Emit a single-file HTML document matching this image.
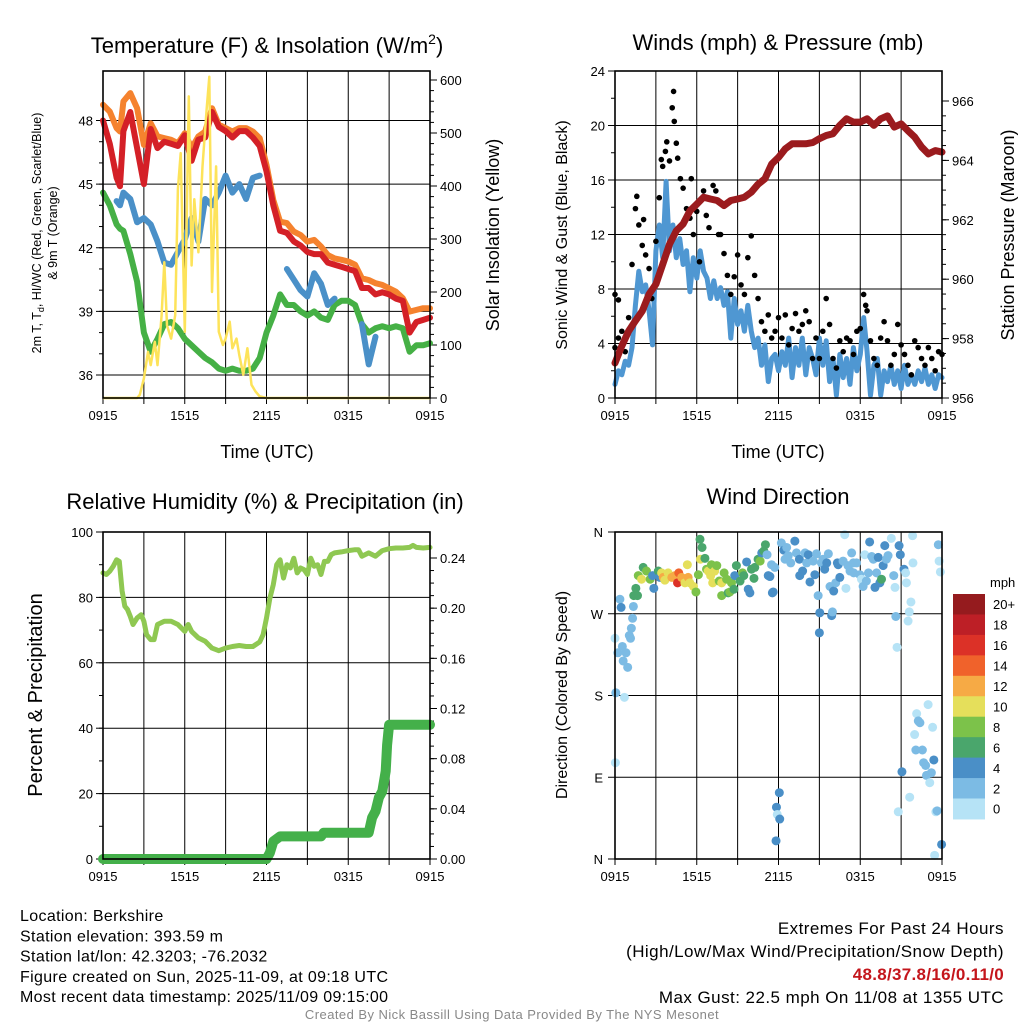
<!DOCTYPE html>
<html><head><meta charset="utf-8"><style>
html,body{margin:0;padding:0;background:#fff;}
svg text{font-family:"Liberation Sans",sans-serif;}
</style></head><body>
<svg id="c" width="1024" height="1024" viewBox="0 0 1024 1024" xmlns="http://www.w3.org/2000/svg"></svg>
<script>
// ---------- DATA ----------
const tempTime=[0,0.5,1,1.25,1.5,2,2.5,3,3.5,4,4.5,5,5.5,6,6.5,7,7.5,8,8.5,9,9.5,10,10.5,11,11.5,12,12.5,13,13.5,14,14.5,15,15.5,16,16.5,17,17.5,18,18.5,19,19.5,20,20.5,21,21.5,22,22.5,23,23.5,24];
const temp2m=[48.0,46.9,45.3,44.9,47.5,48.4,46.7,45.0,47.6,46.7,47.0,46.9,46.8,47.3,46.1,47.1,47.2,48.4,47.7,47.5,47.2,47.5,47.5,47.2,46.8,45.6,44.0,42.8,42.7,42.3,42.1,41.8,41.7,41.7,41.3,41.2,41.1,41.0,40.9,40.1,40.1,39.8,39.9,39.8,39.6,39.5,38.0,38.5,38.6,38.7];
const temp9m=[48.74,48.42,47.64,47.48,48.9,49.29,48.58,46.85,47.87,47.25,47.17,47.09,46.93,47.4,46.7,47.25,47.48,48.58,47.8,47.64,47.48,47.64,47.64,47.48,47.17,45.9,44.25,43.23,43.16,42.76,42.6,42.29,42.37,42.06,41.66,41.5,41.43,41.35,41.2,40.56,40.48,40.33,40.25,40.09,39.93,39.62,38.99,39.07,39.15,39.15];
const dewpoint=[44.6,44.0,43.1,42.9,42.8,41.7,40.4,38.0,37.1,37.7,38.4,38.5,38.2,37.7,37.4,37.1,36.8,36.6,36.3,36.2,36.3,36.2,36.2,36.3,36.8,38.0,38.8,39.8,39.3,39.3,39.0,38.8,39.0,38.7,38.6,39.3,39.5,39.5,39.3,38.4,38.0,38.2,38.3,38.2,38.3,38.2,37.1,37.4,37.4,37.5];
const windChill=[null,null,44.2,44.0,44.6,44.3,43.2,43.4,43.1,42.3,41.3,41.2,41.8,42.4,43.4,42.3,44.3,44.0,44.6,45.4,44.6,45.0,44.3,45.3,45.4,null,43.0,null,41.0,40.5,40.0,39.7,40.8,40.3,39.3,39.6,null,null,null,38.4,36.5,37.8,null,37.2,null,null,37.2,null,null,null];
const solarTime=[0,2.5,2.7,3,3.3,3.5,3.8,4,4.3,4.5,4.7,5,5.3,5.5,5.7,6,6.3,6.5,6.7,7,7.3,7.6,7.8,8,8.3,8.5,8.8,9,9.3,9.5,9.8,10,10.3,10.6,10.9,11.2,11.5,12,24];
const solar=[0,0,6,37,87,62,106,62,156,256,137,112,156,394,462,125,569,250,375,275,437,544,606,200,437,125,100,112,144,94,112,81,44,94,25,12,3,0,0];

const windSpeed=[1.0,2.0,1.7,2.7,2.4,3.7,6.8,9.3,7.8,8.3,6.4,3.9,10.8,12.7,10.3,15.9,10.8,12.7,10.3,11.7,9.8,10.8,7.8,10.3,8.8,10.8,9.3,8.8,7.3,8.6,7.3,8.1,6.8,7.8,4.4,7.3,5.4,6.4,4.9,6.8,4.9,3.7,4.4,2.4,3.9,1.2,2.9,3.2,2.0,3.4,2.4,4.4,1.5,3.7,2.4,4.4,1.7,3.7,2.9,1.7,4.4,2.4,4.2,1.2,2.9,0.2,3.2,1.5,2.9,1.0,3.7,2.0,3.2,5.9,3.4,0.2,2.4,2.9,0.2,2.0,1.2,2.4,1.0,2.0,0.7,2.4,1.0,1.7,1.0,2.0,1.2,2.2,1.0,1.7,0.7,1.7,1.5];
const windStep=0.25;
const gustTime=[0,0,0.25,0.25,0.5,0.75,1,1.25,1.5,1.6,1.75,2,2.1,2.25,2.5,2.7,3,3.25,3.4,3.5,3.7,3.8,4,4.2,4.3,4.35,4.5,4.6,4.8,5,5.25,5.5,5.6,5.75,6,6.2,6.5,6.7,6.9,7.2,7.4,7.6,7.75,8,8.25,8.5,8.75,9,9.25,9.5,9.75,10,10.25,10.5,10.75,11,11.25,11.5,11.75,12,12.25,12.5,12.75,13,13.25,13.5,13.75,14,14.25,14.5,14.75,15,15.25,15.5,15.75,16,16.25,16.5,16.75,17,17.25,17.5,17.75,18,18.25,18.4,18.5,18.75,19,19.25,19.5,19.75,20,20.25,20.5,20.75,21,21.25,21.5,21.75,22,22.25,22.5,22.75,23,23.25,23.5,23.75,24];
const gust=[7.6,3.7,7.2,4.4,4.9,3.4,5.9,9.8,13.9,14.8,12.7,11.2,13.1,10.5,9.5,7.3,11.5,14.7,17.5,17.0,18.1,18.8,17.4,21.3,22.5,20.3,18.7,17.6,16.1,15.4,13.9,13.2,16.1,12.0,13.7,10.0,15.2,13.4,12.5,15.6,15.2,12.0,12.0,10.6,9.0,7.6,8.9,10.5,8.3,7.6,10.3,11.9,9.0,7.3,5.6,4.9,6.1,4.4,4.9,5.9,4.4,6.1,3.9,5.1,6.2,4.9,5.4,6.4,5.6,2.9,4.4,2.9,4.9,7.3,5.4,2.9,2.2,4.2,3.4,4.4,4.2,3.2,4.9,5.1,7.6,6.8,6.4,4.2,2.9,2.4,4.4,5.6,4.2,2.4,3.2,5.4,3.9,3.2,2.4,1.7,4.2,3.7,2.9,2.4,3.7,2.9,2.0,3.4,3.2];
const pressure=[957.18,957.75,958.25,958.6,958.93,959.5,959.83,960.5,961.18,961.63,961.86,962.3,962.53,962.76,962.7,962.65,962.48,962.65,962.7,962.76,962.93,963.2,963.38,963.88,964.1,964.39,964.56,964.56,964.56,964.6,964.73,964.84,964.9,965.18,965.4,965.29,965.29,965.4,965.18,965.4,965.5,965.12,965.23,965.0,964.78,964.45,964.22,964.33,964.28];
const pressStep=0.5;

const rhTime=[0,0.25,0.5,0.75,1,1.2,1.4,1.6,1.8,2,2.2,2.5,2.8,3,3.2,3.5,3.75,4,4.5,5,5.5,6,6.25,6.5,7,7.5,8,8.5,9,9.5,10,10.5,11,11.5,11.75,12,12.25,12.5,12.75,13,13.25,13.5,13.75,14,14.25,14.5,14.75,15,15.25,15.5,15.75,16,16.25,16.5,16.75,17,17.5,18,18.5,18.75,19,19.5,20,20.5,21,21.5,22,22.5,22.75,23,23.5,24];
const rh=[87.5,87,88,89.5,91.5,91,82,77.3,76.3,74.2,71.7,73.7,74.7,72.7,68.6,67.1,67.1,71.7,72.7,72.7,71.7,69.6,71.7,69.6,67.6,66.6,64.5,63.7,64.5,65.0,65.3,65.0,65.0,66.4,68.6,73.7,79.8,83.9,90.0,91.5,85.9,90,89,92,87.5,89,88.5,87,92,89.5,90,87,91,91,93.1,93.6,93.9,94.3,94.6,94.6,92.6,93.6,92.6,94.3,94.9,95.1,95.1,95.3,95.9,95.3,95.1,95.3];
const precipTime=[0,12,12.25,12.5,13,16,16.2,19.5,19.75,20,20.25,20.5,20.75,20.85,21,24];
const precip=[0,0,0.005,0.014,0.018,0.018,0.021,0.021,0.033,0.038,0.049,0.054,0.07,0.091,0.107,0.107];

const dirTime=[0,0.21,0.06,0.69,0.03,0.36,0.45,0.54,0.81,0.6,0.93,1.05,1.14,1.2,1.29,1.35,1.38,1.53,1.65,1.71,1.95,2.07,2.31,2.58,2.76,2.85,3.18,3.3,3.42,3.54,3.66,3.9,4.17,4.41,4.59,4.68,4.89,5.13,5.31,5.37,5.49,5.76,5.94,6.12,6.24,6.27,6.39,6.6,6.72,6.84,7.02,7.08,7.17,7.32,7.47,7.65,7.83,7.83,8.01,8.19,8.31,8.43,8.55,8.73,8.79,8.91,9.18,9.36,9.45,9.66,9.78,9.9,10.02,10.2,10.26,10.5,10.65,10.77,10.92,11.04,11.16,11.25,11.37,11.49,11.55,11.61,11.73,12.06,11.85,11.91,12.09,11.82,12.21,12.39,12.48,12.6,12.72,12.9,13.2,13.32,13.53,13.56,13.77,13.95,14.07,14.19,14.31,14.55,14.67,14.79,14.91,15.03,15.0,15.15,15.27,15.39,15.54,15.66,15.78,15.9,15.96,16.05,16.2,16.32,16.38,16.5,16.74,16.86,16.95,17.1,17.25,17.37,17.49,17.52,17.73,17.97,18.09,18.21,18.33,18.45,18.6,18.69,18.84,18.96,19.08,19.2,19.32,19.44,19.56,19.68,19.8,19.92,20.04,20.28,20.46,20.55,20.61,20.7,20.79,20.85,20.94,21.06,21.21,21.33,21.39,21.51,21.6,21.63,21.72,21.84,21.87,21.99,22.08,22.14,22.26,22.38,22.56,22.65,22.8,22.86,22.98,23.1,23.22,23.31,23.4,23.46,23.55,23.64,23.73,23.79,23.88,23.97];
const dirDeg=[243,227,183,178,106,286,277,234,227,218,211,246,243,254,265,278,290,298,290,312,308,321,317,308,312,298,317,310,315,310,307,315,310,312,304,315,310,304,324,310,304,300,294,313,352,330,343,331,319,317,312,324,304,317,323,306,304,290,315,308,293,294,304,297,312,323,306,315,312,327,297,293,319,309,321,330,328,337,339,346,335,312,311,324,293,294,321,73,57,49,44,20,348,340,330,343,334,326,350,337,330,312,317,337,326,335,305,328,313,336,290,271,249,326,330,319,326,336,300,268,272,295,304,326,324,310,328,357,298,323,317,337,326,315,326,313,308,300,335,306,315,349,333,330,299,315,332,304,308,323,345,330,334,353,312,299,267,233,52,345,335,96,319,315,304,262,272,68,283,356,326,137,120,160,152,150,120,106,103,92,170,84,95,145,109,4,52,53,346,328,316,16];
const dirSpeed=[1,3,3,1,1,3,5,3,3,3,3,3,3,3,3,3,7,7,7,9,11,7,9,9,5,5,7,5,11,13,11,11,13,13,17,15,13,11,11,13,11,11,9,9,7,11,7,7,9,11,11,9,11,11,9,9,11,9,9,9,7,9,9,7,5,7,7,9,7,5,5,5,7,7,7,7,9,5,7,7,3,5,5,3,5,5,3,5,5,1,5,5,3,5,3,3,3,3,5,3,5,5,5,3,3,5,5,3,5,3,3,5,5,3,3,5,5,3,3,5,3,5,3,5,5,5,3,1,1,3,3,3,3,3,3,3,1,3,1,3,3,5,3,3,5,3,5,5,7,5,5,3,3,1,3,1,3,1,1,5,5,5,5,1,1,1,1,1,1,1,1,1,3,1,3,3,3,3,3,3,1,1,3,1,5,1,1,3,3,1,1,5];

const xTickLabels=["0915","1515","2115","0315","0915"];
const speedBinLabels=["20+","18","16","14","12","10","8","6","4","2","0"];
const speedBinColors=["#951b1e","#bd1f26","#dc3127","#f0622b","#f6aa45","#e5df5b","#7cc24a","#4aa66c","#4a8fc7","#7cbbe4","#b6e3f6"];
const dirLabels=["N","E","S","W","N"];

// ---------- HELPERS ----------
const NS="http://www.w3.org/2000/svg";
const svg=document.getElementById('c');
function mk(tag,attrs,parent){const e=document.createElementNS(NS,tag);for(const k in attrs)e.setAttribute(k,attrs[k]);(parent||svg).appendChild(e);return e;}
function txt(s,x,y,size,anchor,parent,extra){const t=mk('text',Object.assign({x:x,y:y,'font-size':size,'text-anchor':anchor||'middle',fill:'#000'},extra||{}),parent);t.textContent=s;return t;}
function lin(d0,d1,r0,r1){return v=>r0+(v-d0)*(r1-r0)/(d1-d0);}
function pathFrom(xs,ys,fx,fy){let d='',pen=false;for(let i=0;i<xs.length;i++){if(ys[i]===null){pen=false;continue;}d+=(pen?'L':'M')+fx(xs[i]).toFixed(1)+','+fy(ys[i]).toFixed(1);pen=true;}return d;}

function panel(name,x0,y0,x1,y1){
  const g=mk('g',{});
  
  
  const xs=lin(0,24,x0,x1);
  const grid=mk('g',{stroke:'#000','stroke-width':1},g);
  
  
  for(let h=3;h<24;h+=3){mk('line',{x1:xs(h),x2:xs(h),y1:y0,y2:y1},grid);}
  const xt=mk('g',{},g);
  
  
  for(let i=0;i<xTickLabels.length;i++){const h=i*6;mk('line',{x1:xs(h),x2:xs(h),y1:y1,y2:y1+6,stroke:'#000'},xt);txt(xTickLabels[i],xs(h),y1+22,13,'middle',xt);}
  for(let h=3;h<24;h+=6){mk('line',{x1:xs(h),x2:xs(h),y1:y1,y2:y1+6,stroke:'#000'},xt);}
  return {g:g,xs:xs,grid:grid,x0:x0,x1:x1,y0:y0,y1:y1};
}
function frame(p){const r=mk('rect',{x:p.x0,y:p.y0,width:p.x1-p.x0,height:p.y1-p.y0,fill:'none',stroke:'#000','stroke-width':1.6},p.g);}
function yAxis(p,side,fy,min,max,major,minor,fmt,gridOn,name){
  const g=mk('g',{},p.g);
  
  
  const x=side==='left'?p.x0:p.x1, dir=side==='left'?-1:1;
  if(minor){for(let v=min;v<=max+1e-9;v+=minor){mk('line',{x1:x,x2:x+dir*4,y1:fy(v),y2:fy(v),stroke:'#000'},g);}}
  for(let v=min;v<=max+1e-9;v+=major){const y=fy(v);mk('line',{x1:x,x2:x+dir*7,y1:y,y2:y,stroke:'#000'},g);
    txt(fmt(v),x+dir*10,y+5,13,side==='left'?'end':'start',g);
    if(gridOn&&Math.abs(y-p.y0)>2&&Math.abs(y-p.y1)>2)mk('line',{x1:p.x0,x2:p.x1,y1:y,y2:y,stroke:'#000'},p.grid);}
}

// ---------- PANEL 1: Temperature ----------
{
const p=panel('temperature-panel',103,71,430,398);
const yT=lin(36,48,375,120.5), yS=lin(0,600,398,80);
yAxis(p,'left',yT,36,48,3,1,v=>String(v),true,'temp-y-axis');
yAxis(p,'right',yS,0,600,100,20,v=>String(v),false,'solar-y-axis');
const s1=mk('path',{d:pathFrom(tempTime,dewpoint,p.xs,yT),fill:'none',stroke:'#45b045','stroke-width':6,'stroke-linejoin':'round','stroke-linecap':'round'},p.g);

const s2=mk('path',{d:pathFrom(tempTime,temp9m,p.xs,yT),fill:'none',stroke:'#f5822e','stroke-width':6,'stroke-linejoin':'round','stroke-linecap':'round'},p.g);

const s3=mk('path',{d:pathFrom(tempTime,temp2m,p.xs,yT),fill:'none',stroke:'#d42027','stroke-width':6,'stroke-linejoin':'round','stroke-linecap':'round'},p.g);

const s4=mk('path',{d:pathFrom(tempTime,windChill,p.xs,yT),fill:'none',stroke:'#4a90c8','stroke-width':6,'stroke-linejoin':'round','stroke-linecap':'round'},p.g);

const s5=mk('path',{d:pathFrom(solarTime,solar,p.xs,yS),fill:'none',stroke:'#fde35a','stroke-width':2.5,'stroke-linejoin':'round'},p.g);

frame(p);
const t=txt('',267,53,22,'middle');
t.innerHTML='Temperature (F) &amp; Insolation (W/m<tspan font-size="14" dy="-9">2</tspan><tspan dy="9">)</tspan>';
const xl=txt('Time (UTC)',267,458,18);
const yl=mk('text',{transform:'translate(41,233) rotate(-90)','font-size':12.5,'text-anchor':'middle'});
yl.innerHTML='2m T, T<tspan font-size="9" dy="3">d</tspan><tspan dy="-3">, HI/WC (Red, Green, Scarlet/Blue)</tspan>';
const yl2=txt('& 9m T (Orange)',0,0,12.5,'middle',svg,{transform:'translate(57,233) rotate(-90)'});
const yr=txt('Solar Insolation (Yellow)',0,0,18,'middle',svg,{transform:'translate(499,235) rotate(-90)'});
}

// ---------- PANEL 2: Winds ----------
{
const p=panel('winds-panel',615,71,942,398);
const yW=lin(0,24,398,71), yP=lin(956,966,398,101);
yAxis(p,'left',yW,0,24,4,2,v=>String(v),true,'wind-y-axis');
yAxis(p,'right',yP,956,966,2,0.5,v=>String(v),false,'pressure-y-axis');
const wt=windSpeed.map((v,i)=>i*windStep);
const w=mk('path',{d:pathFrom(wt,windSpeed,p.xs,yW),fill:'none',stroke:'#4f97d2','stroke-width':5,'stroke-linejoin':'round','stroke-linecap':'round'},p.g);

const gg=mk('g',{fill:'#000'},p.g);
for(let i=0;i<gust.length;i++){const c=mk('circle',{cx:p.xs(gustTime[i]),cy:yW(gust[i]),r:2.8},gg);}
const pt=pressure.map((v,i)=>i*pressStep);
const pr=mk('path',{d:pathFrom(pt,pressure,p.xs,yP),fill:'none',stroke:'#9b1b1e','stroke-width':7,'stroke-linejoin':'round','stroke-linecap':'round'},p.g);

frame(p);
const t=txt('Winds (mph) & Pressure (mb)',778,50,22);
const xl=txt('Time (UTC)',778,458,18);
const yl=txt('Sonic Wind & Gust (Blue, Black)',0,0,16,'middle',svg,{transform:'translate(567,235) rotate(-90)'});
const yr=txt('Station Pressure (Maroon)',0,0,18,'middle',svg,{transform:'translate(1014,235) rotate(-90)'});
}

// ---------- PANEL 3: RH & Precip ----------
{
const p=panel('humidity-precip-panel',103,532,430,859);
const yR=lin(0,100,859,532), yPr=lin(0,0.24,859,558);
yAxis(p,'left',yR,0,100,20,10,v=>String(v),true,'rh-y-axis');
yAxis(p,'right',yPr,0,0.24,0.04,0.01,v=>v.toFixed(2),false,'precip-y-axis');
const r=mk('path',{d:pathFrom(rhTime,rh,p.xs,yR),fill:'none',stroke:'#8fc852','stroke-width':5,'stroke-linejoin':'round','stroke-linecap':'round'},p.g);

const pc=mk('path',{d:pathFrom(precipTime,precip,p.xs,yPr),fill:'none',stroke:'#44b04a','stroke-width':10,'stroke-linejoin':'round','stroke-linecap':'round'},p.g);

frame(p);
const t=txt('Relative Humidity (%) & Precipitation (in)',265,509,22);
const yl=txt('Percent & Precipitation',0,0,20,'middle',svg,{transform:'translate(42,695) rotate(-90)'});
}

// ---------- PANEL 4: Wind direction ----------
{
const p=panel('wind-direction-panel',615,532,942,859);
const yD=lin(0,360,859,532);
const ax=mk('g',{},p.g);
for(let i=0;i<dirLabels.length;i++){const y=yD(i*90);mk('line',{x1:p.x0-7,x2:p.x0,y1:y,y2:y,stroke:'#000'},ax);txt(dirLabels[i],p.x0-12,y+5,13,'end',ax);if(i>0&&i<4)mk('line',{x1:p.x0,x2:p.x1,y1:y,y2:y,stroke:'#000'},p.grid);}
const dg=mk('g',{},p.g);
for(let i=0;i<dirTime.length;i++){const b=Math.min(10,Math.floor(dirSpeed[i]/2));const c=mk('circle',{cx:p.xs(dirTime[i]),cy:yD(dirDeg[i]),r:4.5,fill:speedBinColors[10-b]},dg);}
frame(p);
const t=txt('Wind Direction',778,504,22);
const yl=txt('Direction (Colored By Speed)',0,0,16,'middle',svg,{transform:'translate(567,695) rotate(-90)'});
const cb=mk('g',{});
const bh=20.45;
for(let i=0;i<speedBinColors.length;i++){const y=594+i*bh;const r=mk('rect',{x:953,y:y,width:32,height:bh+0.5,fill:speedBinColors[i]},cb);txt(speedBinLabels[i],993,y+bh/2+5,13,'start',cb);}
const u=txt('mph',990,587,13,'start',cb);
}

// ---------- FOOTER ----------
{
const f=mk('g',{});
const lines=["Location: Berkshire","Station elevation: 393.59 m","Station lat/lon: 42.3203; -76.2032","Figure created on Sun, 2025-11-09, at 09:18 UTC","Most recent data timestamp: 2025/11/09 09:15:00"];
lines.forEach((s,i)=>txt(s,20,921+i*20.3,16,'start',f,{'letter-spacing':0.35}));
const e=mk('g',{});
txt('Extremes For Past 24 Hours',1004,934,17,'end',e,{'letter-spacing':0.45});
txt('(High/Low/Max Wind/Precipitation/Snow Depth)',1004,957,17,'end',e,{'letter-spacing':0.45});
txt('48.8/37.8/16/0.11/0',1004,980,17,'end',e,{fill:'#c4161c','font-weight':'bold','letter-spacing':0.3});
txt('Max Gust: 22.5 mph On 11/08 at 1355 UTC',1004,1003,17,'end',e,{'letter-spacing':0.45});
const cr=txt('Created By Nick Bassill Using Data Provided By The NYS Mesonet',512,1019,13,'middle',svg,{fill:'#888','letter-spacing':0.45});
}
</script>
</body></html>
